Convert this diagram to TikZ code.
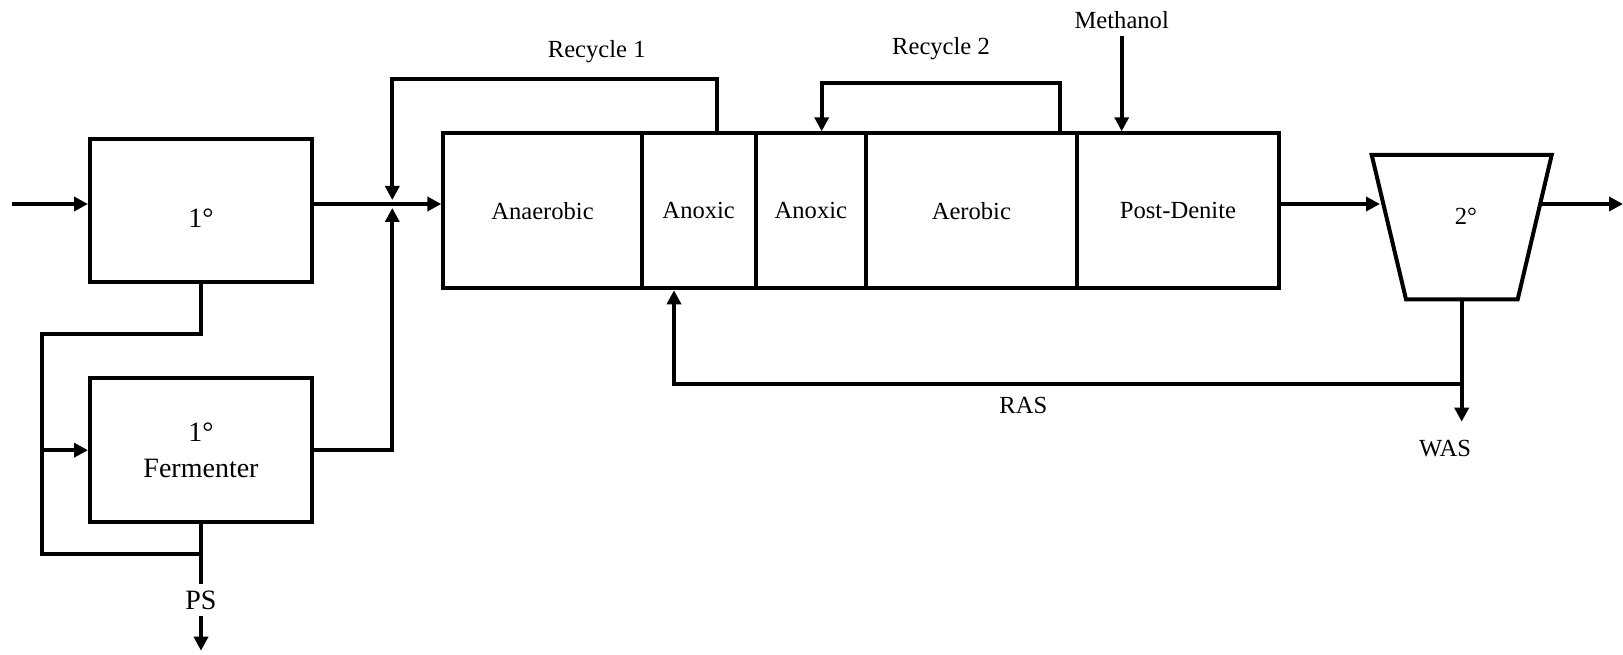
\documentclass[tikz,border=0pt]{standalone}
\usepackage{fontspec}
\setmainfont{Liberation Serif}
\usetikzlibrary{arrows.meta}

\tikzset{
  pipe/.style={line width=2pt},
  flow/.style={pipe, -{Triangle[length=7pt,width=7pt]}},
  tank/.style={draw, line width=2pt, minimum width=111pt, minimum height=71.7pt,
    inner sep=0pt, align=center, font=\fontsize{14}{18}\selectfont},
  zone/.style={draw, line width=2pt, minimum height=77.5pt, inner sep=0pt},
}

\begin{document}
\begin{tikzpicture}[x=1pt,y=1pt,font=\fontsize{12.3}{15}\selectfont]
\useasboundingbox (0,0) rectangle (811.5,327);

% primary treatment
\node[tank] (prim) at (100.5,221.6) {};
\node[font=\fontsize{14}{18}\selectfont] (primlbl) at (100.5,218) {1°};
\node[tank] (ferm) at (100.5,101.9) {1°\\Fermenter};

% reactor zones
\node[zone, minimum width=99.2pt]  (anaer) at (271.25,221.6) {Anaerobic};
\node[zone, minimum width=57pt]    (anox1) at (349.35,221.6) {Anoxic};
\node[zone, minimum width=55.15pt] (anox2) at (405.43,221.6) {Anoxic};
\node[zone, minimum width=105.35pt] (aer)  at (485.68,221.6) {Aerobic};
\node[zone, minimum width=101.3pt] (post)  at (589,221.6) {Post-Denite};

% secondary clarifier
\coordinate (tl) at (685.85,249.5);
\coordinate (tr) at (775.85,249.5);
\coordinate (br) at (758.85,177.35);
\coordinate (bl) at (703,177.35);
\draw[pipe] (tl) -- (tr) -- (br) -- (bl) -- cycle;
\node (sec) at (733,218.65) {2°};

% labels
\node (rec1) at (298.35,301.15) {Recycle 1};
\node (rec2) at (470.5,302.85) {Recycle 2};
\node (meth) at (560.85,317) {Methanol};
\node (raslbl) at (511.65,124.5) {RAS};
\node (was) at (722.5,102.85) {WAS};
\node[font=\fontsize{14}{18}\selectfont] (ps) at (100.5,27) {PS};

% main line
\coordinate (feed) at (6,225);
\coordinate (j) at (196.15,225);
\draw[flow] (feed) -- (prim.west |- j);
\draw[flow] (prim.east |- j) -- (anaer.west |- j);
\draw[flow, shorten >=2pt] (ferm.east) -| (j);
\coordinate (secin) at (690,225);
\coordinate (secout) at (770,225);
\coordinate (eff) at (811.5,225);
\draw[flow] (post.east |- j) -- (secin);
\draw[flow] (secout) -- (eff);

% sludge to fermenter
\coordinate (split) at (21.15,159.85);
\coordinate (loop) at (21.15,50);
\draw[pipe] (prim.south) |- (split) -- (loop) -| (ferm.south);
\draw[flow] (split |- ferm.west) -- (ferm.west);
\coordinate (psout) at (100.5,1.65);
\draw[pipe] (ferm.south) -- (ps.north);
\draw[flow] (ps.south) -- (psout);

% internal recycles
\coordinate (r1) at (358.35,287.35);
\draw[flow, shorten >=2pt] (r1 |- anox1.north) -- (r1) -| (j);
\coordinate (r2a) at (530,285.65);
\coordinate (r2b) at (410.85,285.65);
\draw[flow] (r2a |- aer.north) -- (r2a) -- (r2b) -- (r2b |- anox2.north);
\draw[flow] (meth.south) -- (meth.south |- post.north);

% return and waste sludge
\coordinate (secbot) at (730.85,177.35);
\coordinate (ras) at (730.85,135);
\coordinate (wasend) at (730.85,116.15);
\coordinate (rasin) at (337,135);
\draw[flow] (secbot) -- (wasend);
\draw[flow] (ras) -- (rasin) -- (rasin |- anox1.south);
\end{tikzpicture}
\end{document}
